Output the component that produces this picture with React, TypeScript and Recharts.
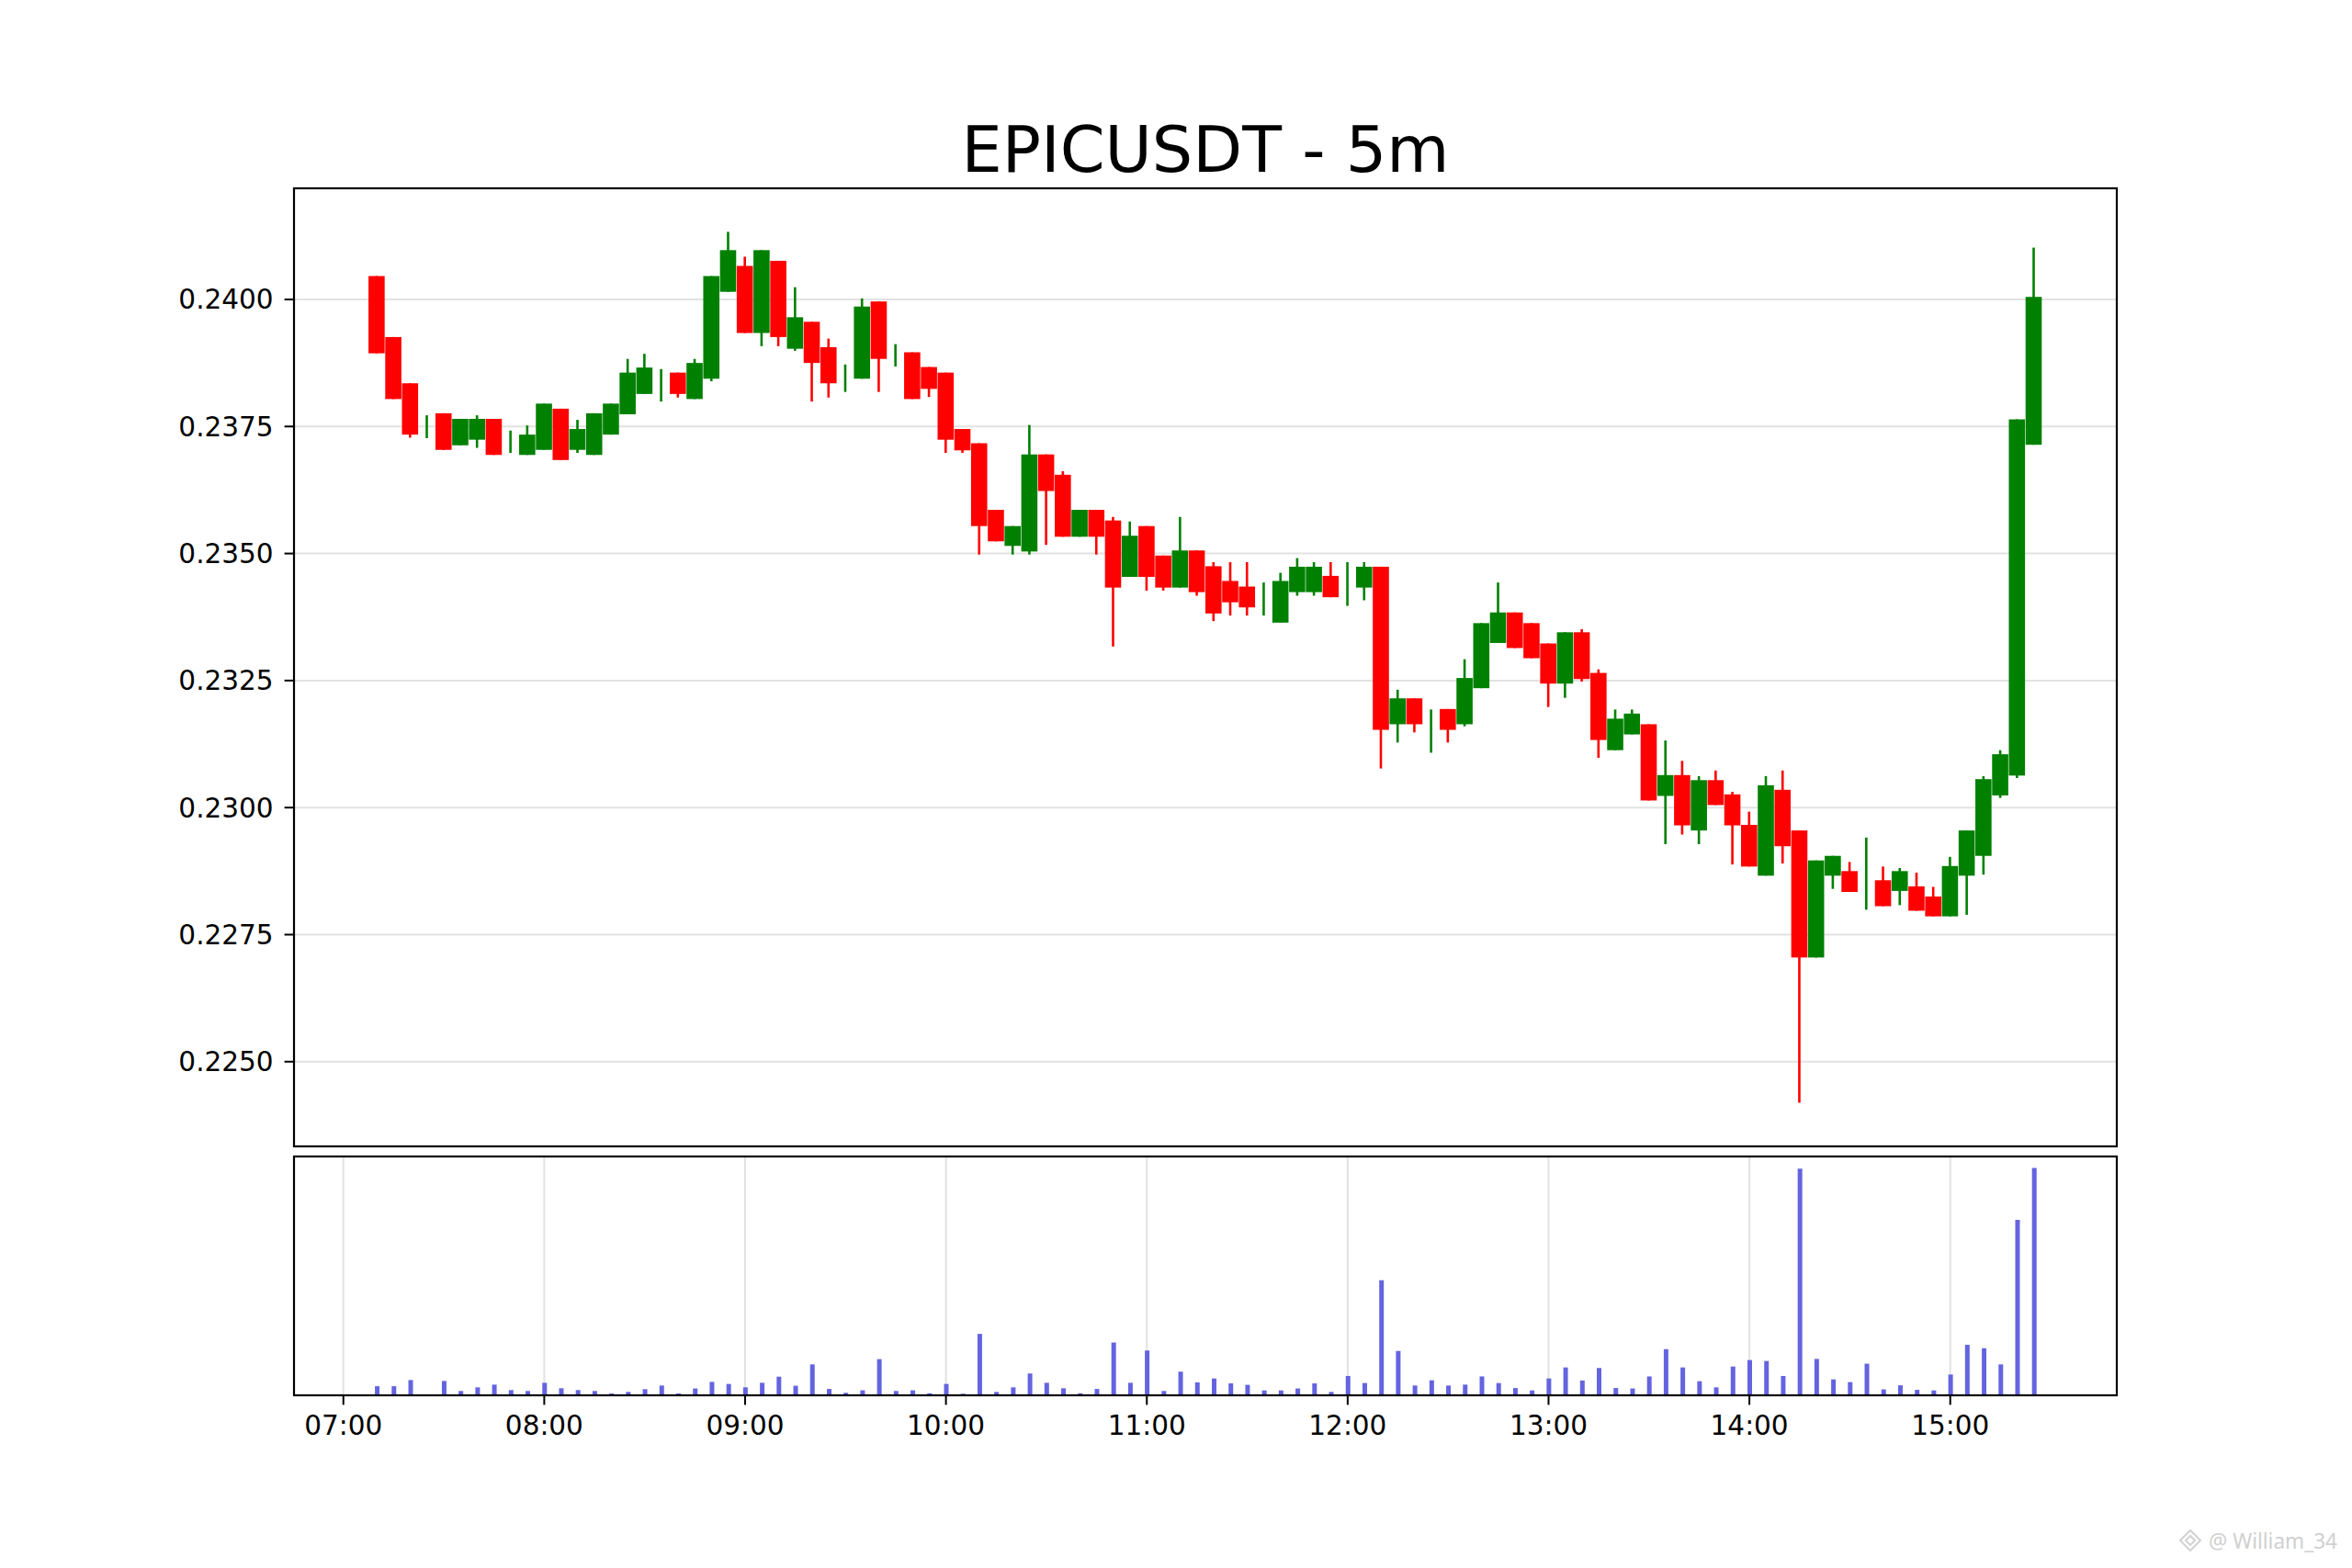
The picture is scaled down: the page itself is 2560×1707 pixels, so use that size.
import React from "react";
import { ComposedChart, Bar, XAxis, YAxis, CartesianGrid } from "recharts";

// ---- data ----
const startMinute = 7 * 60 + 10; // 07:10, 5-minute candles
const stepMinutes = 5;

const opens = [
  0.24046, 0.23926, 0.23835, 0.2375, 0.23776, 0.23713, 0.23724, 0.23765, 0.2372, 0.23694,
  0.23704, 0.23785, 0.23704, 0.23694, 0.23734, 0.23774, 0.23814, 0.2383, 0.23856, 0.23804,
  0.23844, 0.24015, 0.24066, 0.23934, 0.24076, 0.23903, 0.23956, 0.23906, 0.2384, 0.23844,
  0.23996, 0.2389, 0.23896, 0.23867, 0.23856, 0.23745, 0.23717, 0.23586, 0.23515, 0.23504,
  0.23695, 0.23655, 0.23533, 0.23586, 0.23565, 0.23454, 0.23554, 0.23496, 0.23433, 0.23506,
  0.23475, 0.23446, 0.23435, 0.2341, 0.23364, 0.23424, 0.23424, 0.23456, 0.2345, 0.23433,
  0.23474, 0.23164, 0.23215, 0.2315, 0.23194, 0.23164, 0.23235, 0.23324, 0.23384, 0.23363,
  0.23323, 0.23244, 0.23345, 0.23265, 0.23113, 0.23144, 0.23164, 0.23023, 0.23064, 0.22955,
  0.23054, 0.23026, 0.22966, 0.22866, 0.23035, 0.22955, 0.22705, 0.22866, 0.22875, 0.2285,
  0.22857, 0.22836, 0.22845, 0.22825, 0.22786, 0.22866, 0.22905, 0.23024, 0.23063, 0.23714,
];
const highs = [
  0.24046, 0.23926, 0.23835, 0.23772, 0.23776, 0.23765, 0.23772, 0.23765, 0.23742, 0.23752,
  0.23795, 0.23785, 0.23763, 0.23776, 0.23795, 0.23883, 0.23893, 0.23863, 0.23856, 0.23883,
  0.24046, 0.24133, 0.24084, 0.24097, 0.24076, 0.24024, 0.23956, 0.23923, 0.23872, 0.24002,
  0.23996, 0.23912, 0.23896, 0.23867, 0.23856, 0.23745, 0.23717, 0.23586, 0.23554, 0.23753,
  0.23695, 0.23662, 0.23586, 0.23586, 0.23572, 0.23563, 0.23554, 0.23496, 0.23572, 0.23506,
  0.23483, 0.23483, 0.23483, 0.23443, 0.23462, 0.23491, 0.23483, 0.23483, 0.23483, 0.23483,
  0.23474, 0.23232, 0.23215, 0.23193, 0.23194, 0.23292, 0.23363, 0.23443, 0.23384, 0.23363,
  0.23323, 0.23345, 0.23351, 0.23272, 0.23193, 0.23193, 0.23164, 0.23132, 0.23092, 0.23062,
  0.23073, 0.23031, 0.22992, 0.23062, 0.23073, 0.22955, 0.22896, 0.22905, 0.22893, 0.22941,
  0.22884, 0.22881, 0.22872, 0.22844, 0.22903, 0.22955, 0.23062, 0.23113, 0.23764, 0.24102,
];
const lows = [
  0.23894, 0.23804, 0.23728, 0.23727, 0.23704, 0.23713, 0.23708, 0.23694, 0.23698, 0.23694,
  0.23704, 0.23684, 0.23698, 0.23694, 0.23734, 0.23774, 0.23814, 0.23799, 0.23807, 0.23804,
  0.23839, 0.24015, 0.23934, 0.23908, 0.23908, 0.23899, 0.23799, 0.23807, 0.23818, 0.23844,
  0.23818, 0.23868, 0.23804, 0.23808, 0.23698, 0.23698, 0.23498, 0.23524, 0.23498, 0.23498,
  0.23517, 0.23533, 0.23533, 0.23498, 0.23317, 0.23454, 0.23427, 0.23427, 0.23433, 0.23417,
  0.23367, 0.23378, 0.23378, 0.23378, 0.23364, 0.23417, 0.23417, 0.23414, 0.23397, 0.23408,
  0.23077, 0.23128, 0.23148, 0.23108, 0.23128, 0.2316, 0.23235, 0.23324, 0.23314, 0.23294,
  0.23198, 0.23216, 0.23248, 0.23098, 0.23113, 0.23144, 0.23014, 0.22928, 0.22947, 0.22928,
  0.23005, 0.22888, 0.22884, 0.22866, 0.2289, 0.22419, 0.22705, 0.2284, 0.22834, 0.22799,
  0.22806, 0.22808, 0.22797, 0.22786, 0.22786, 0.22789, 0.22868, 0.23019, 0.23058, 0.23714,
];
const closes = [
  0.23894, 0.23804, 0.23734, 0.2375, 0.23704, 0.23765, 0.23765, 0.23694, 0.2372, 0.23734,
  0.23795, 0.23684, 0.23745, 0.23776, 0.23795, 0.23856, 0.23866, 0.2383, 0.23814, 0.23875,
  0.24046, 0.24097, 0.23934, 0.24097, 0.23926, 0.23965, 0.23875, 0.23835, 0.2384, 0.23986,
  0.23883, 0.2389, 0.23804, 0.23824, 0.23724, 0.23703, 0.23554, 0.23524, 0.23554, 0.23695,
  0.23623, 0.23533, 0.23586, 0.23533, 0.23433, 0.23535, 0.23454, 0.23433, 0.23506, 0.23424,
  0.23382, 0.23404, 0.23394, 0.2341, 0.23446, 0.23474, 0.23474, 0.23414, 0.2345, 0.23474,
  0.23153, 0.23215, 0.23164, 0.2315, 0.23153, 0.23255, 0.23363, 0.23384, 0.23314, 0.23294,
  0.23244, 0.23345, 0.23253, 0.23133, 0.23175, 0.23185, 0.23014, 0.23064, 0.22965, 0.23054,
  0.23005, 0.22965, 0.22884, 0.23044, 0.22924, 0.22705, 0.22896, 0.22905, 0.22834, 0.2285,
  0.22806, 0.22875, 0.22797, 0.22786, 0.22885, 0.22955, 0.23056, 0.23105, 0.23764, 0.24005,
];
const volumes = [
  4.0, 4.0, 6.7, 0.3, 6.3, 1.9, 3.5, 4.7, 2.3, 1.9,
  5.5, 3.1, 2.3, 1.9, 0.8, 1.5, 2.7, 4.3, 0.8, 3.0,
  5.9, 5.0, 3.5, 5.5, 8.2, 4.2, 13.6, 2.8, 1.1, 2.2,
  15.9, 1.9, 2.2, 0.9, 5.0, 0.7, 27.0, 1.5, 3.5, 9.6,
  5.5, 3.1, 0.9, 2.8, 23.2, 5.5, 19.7, 1.9, 10.4, 5.7,
  7.4, 5.25, 4.6, 2.15, 2.15, 3.0, 5.25, 1.5, 8.5, 5.4,
  50.6, 19.5, 4.3, 6.6, 4.3, 4.7, 8.3, 5.4, 3.2, 2.15,
  7.4, 12.25, 6.5, 12.0, 3.2, 3.0, 8.3, 20.3, 12.25, 6.2,
  3.5, 12.65, 15.5, 15.1, 8.5, 99.6, 16.0, 7.0, 5.8, 13.9,
  2.6, 4.4, 2.4, 2.15, 9.15, 22.2, 20.7, 13.6, 77.1, 100.0,
];
const priceTicks = [0.225, 0.2275, 0.23, 0.2325, 0.235, 0.2375, 0.24];
const timeTicks = [420, 480, 540, 600, 660, 720, 780, 840, 900];
const titleText = "EPICUSDT - 5m";
const watermarkText = "@ William_34";

// ---- derived table ----
const rows = opens.map((o, i) => ({
  t: startMinute + i * stepMinutes,
  open: o,
  high: highs[i],
  low: lows[i],
  close: closes[i],
  volume: volumes[i],
  range: [lows[i], highs[i]],
}));

const tFirst = rows[0].t;
const tLast = rows[rows.length - 1].t;
const tPad = (tLast - tFirst) * 0.05;
const xDomain = [tFirst - tPad, tLast + tPad];
const pMin = Math.min(...lows);
const pMax = Math.max(...highs);
const pPad = (pMax - pMin) * 0.05;
const yDomain = [pMin - pPad, pMax + pPad];
const vMax = Math.max(...volumes);
const vDomain = [0, vMax * 1.05];

const fmtTime = (m: number) => {
  const h = Math.floor(m / 60);
  const mm = Math.round(m % 60);
  return `${String(h).padStart(2, "0")}:${String(mm).padStart(2, "0")}`;
};

const FONT = "'DejaVu Sans', sans-serif";
const UP = "#008000";
const DOWN = "#ff0000";

const Candle = (props: any) => {
  const { x, y, width, height, payload } = props;
  if (x == null || y == null || !payload) return null;
  const top = Math.min(y, y + height);
  const h = Math.abs(height);
  const { open, close, high, low } = payload;
  const cx = x + width / 2;
  const py = (v: number) => (high === low ? top : top + ((high - v) / (high - low)) * h);
  const color = close >= open ? UP : DOWN;
  const bTop = py(Math.max(open, close));
  const bBot = py(Math.min(open, close));
  return (
    <g>
      <line x1={cx} x2={cx} y1={top} y2={top + h} stroke={color} strokeWidth={2.6} />
      {bBot - bTop > 0.5 && (
        <rect x={x} y={bTop} width={width} height={bBot - bTop} fill={color} />
      )}
    </g>
  );
};

const tickStyle = { fontFamily: FONT, fontSize: 29.5, fill: "#000" };

export default function App() {
  return (
    <div
      style={{
        position: "absolute",
        left: 0,
        top: 0,
        width: 2560,
        height: 1707,
        background: "#fff",
        overflow: "hidden",
      }}
    >
      <div style={{ position: "absolute", left: 0, top: 0 }}>
        <ComposedChart
          width={2560}
          height={1260}
          data={rows}
          margin={{ top: 205, right: 256, bottom: 11, left: 120 }}
        >
          <CartesianGrid stroke="#e2e2e2" strokeWidth={2} />
          <XAxis
            dataKey="t"
            type="number"
            domain={xDomain}
            allowDataOverflow
            ticks={timeTicks}
            tick={false}
            tickLine={false}
            axisLine={false}
            height={1}
          />
          <YAxis
            type="number"
            domain={yDomain}
            allowDataOverflow
            ticks={priceTicks}
            tickFormatter={(v: number) => v.toFixed(4)}
            tick={tickStyle}
            tickSize={10.4}
            tickMargin={12}
            tickLine={{ stroke: "#000", strokeWidth: 2 }}
            axisLine={false}
            width={200}
          />
          <Bar dataKey="range" barSize={17.6} shape={<Candle />} isAnimationActive={false} />
        </ComposedChart>
      </div>

      <div style={{ position: "absolute", left: 0, top: 1250 }}>
        <ComposedChart
          width={2560}
          height={457}
          data={rows}
          margin={{ top: 9, right: 256, bottom: 128, left: 120 }}
        >
          <CartesianGrid stroke="#e2e2e2" strokeWidth={2} horizontal={false} />
          <XAxis
            dataKey="t"
            type="number"
            domain={xDomain}
            allowDataOverflow
            ticks={timeTicks}
            tickFormatter={fmtTime}
            tick={tickStyle}
            tickSize={10.4}
            tickMargin={12}
            tickLine={{ stroke: "#000", strokeWidth: 2 }}
            axisLine={false}
            height={60}
          />
          <YAxis
            type="number"
            domain={vDomain}
            allowDataOverflow
            tick={false}
            tickLine={false}
            axisLine={false}
            width={200}
          />
          <Bar dataKey="volume" barSize={5} fill="#6464e0" isAnimationActive={false} />
        </ComposedChart>
      </div>

      <svg
        width={2560}
        height={1707}
        style={{ position: "absolute", left: 0, top: 0, pointerEvents: "none" }}
      >
        <rect x={320} y={205} width={1984} height={1043} fill="none" stroke="#000" strokeWidth={2.2} />
        <rect x={320} y={1259} width={1984} height={260} fill="none" stroke="#000" strokeWidth={2.2} />
        <text
          x={1312}
          y={186.7}
          textAnchor="middle"
          fontFamily={FONT}
          fontSize={70}
          fill="#000"
        >
          {titleText}
        </text>
        <g stroke="#d4d4d4" strokeWidth={2.2} fill="none">
          <path d="M2384 1666 L2395 1677 L2384 1688 L2373 1677 Z" />
          <path d="M2384 1672 L2389 1677 L2384 1682 L2379 1677 Z" />
        </g>
        <text
          x={2404}
          y={1686}
          fontFamily="'Noto Sans', sans-serif"
          fontSize={24}
          fill="#d0d0d0"
          textLength={140}
          lengthAdjust="spacingAndGlyphs"
        >
          {watermarkText}
        </text>
      </svg>
    </div>
  );
}
